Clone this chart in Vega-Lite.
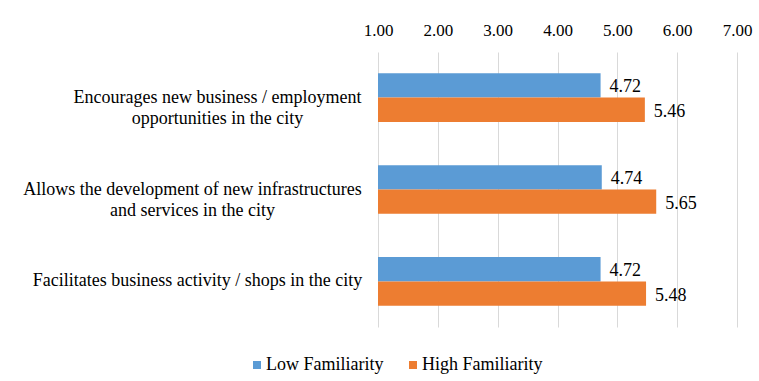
{
  "$schema": "https://vega.github.io/schema/vega-lite/v6.json",
  "width": 359,
  "height": 275,
  "autosize": {"type": "none"},
  "padding": {"left": 378, "top": 52, "right": 22, "bottom": 54},
  "background": "white",
  "config": {
    "view": {"stroke": null},
    "font": "Liberation Serif"
  },
  "data": {
    "values": [
      {"item": "Encourages new business / employment|opportunities in the city", "group": "Low Familiarity", "value": 4.72},
      {"item": "Encourages new business / employment|opportunities in the city", "group": "High Familiarity", "value": 5.46},
      {"item": "Allows the development of new infrastructures|and services in the city", "group": "Low Familiarity", "value": 4.74},
      {"item": "Allows the development of new infrastructures|and services in the city", "group": "High Familiarity", "value": 5.65},
      {"item": "Facilitates business activity / shops in the city", "group": "Low Familiarity", "value": 4.72},
      {"item": "Facilitates business activity / shops in the city", "group": "High Familiarity", "value": 5.48}
    ]
  },
  "encoding": {
    "y": {
      "field": "item",
      "type": "nominal",
      "sort": [
        "Encourages new business / employment|opportunities in the city",
        "Allows the development of new infrastructures|and services in the city",
        "Facilitates business activity / shops in the city"
      ],
      "scale": {"paddingInner": 0.47, "paddingOuter": 0.23},
      "axis": {
        "title": null,
        "domain": false,
        "ticks": false,
        "tickSize": 0,
        "grid": false,
        "labelFont": "Liberation Serif",
        "labelAlign": "center",
        "labelBaseline": "middle",
        "labelFontSize": 18,
        "labelLineHeight": 21,
        "labelColor": "#000000",
        "labelLimit": 0,
        "labelExpr": "split(datum.label, '|')",
        "labelPadding": {
          "condition": [
            {"test": "indexof(datum.value, 'Encourages') == 0", "value": 161},
            {"test": "indexof(datum.value, 'Allows') == 0", "value": 186}
          ],
          "value": 181
        }
      }
    },
    "yOffset": {"field": "group", "type": "nominal", "sort": ["Low Familiarity", "High Familiarity"]}
  },
  "layer": [
    {
      "mark": {"type": "bar"},
      "encoding": {
        "x": {
          "field": "value",
          "type": "quantitative",
          "scale": {"domain": [1, 7], "nice": false, "zero": false},
          "axis": {
            "orient": "top",
            "title": null,
            "values": [1, 2, 3, 4, 5, 6, 7],
            "format": ".2f",
            "domain": false,
            "ticks": false,
            "tickSize": 0,
            "labelPadding": 13,
            "labelFont": "Liberation Serif",
            "labelFontSize": 17,
            "labelColor": "#000000",
            "labelFlush": false,
            "grid": true,
            "gridColor": "#d9d9d9",
            "gridWidth": 1
          }
        },
        "x2": {"datum": 1},
        "color": {
          "field": "group",
          "type": "nominal",
          "scale": {"domain": ["Low Familiarity", "High Familiarity"], "range": ["#5b9bd5", "#ed7d31"]},
          "legend": {
            "orient": "none",
            "legendX": -130,
            "legendY": 304,
            "direction": "horizontal",
            "title": null,
            "symbolType": "square",
            "symbolSize": 64,
            "symbolStrokeWidth": 0,
            "labelFont": "Liberation Serif",
            "labelFontSize": 18,
            "labelColor": "#000000",
            "labelOffset": 0,
            "columnPadding": 20
          }
        }
      }
    },
    {
      "mark": {"type": "text", "align": "left", "baseline": "middle", "dx": 9, "dy": 2, "fontSize": 18, "color": "#000000", "font": "Liberation Serif"},
      "encoding": {
        "x": {"field": "value", "type": "quantitative"},
        "text": {"field": "value", "type": "quantitative", "format": ".2f"}
      }
    }
  ]
}
